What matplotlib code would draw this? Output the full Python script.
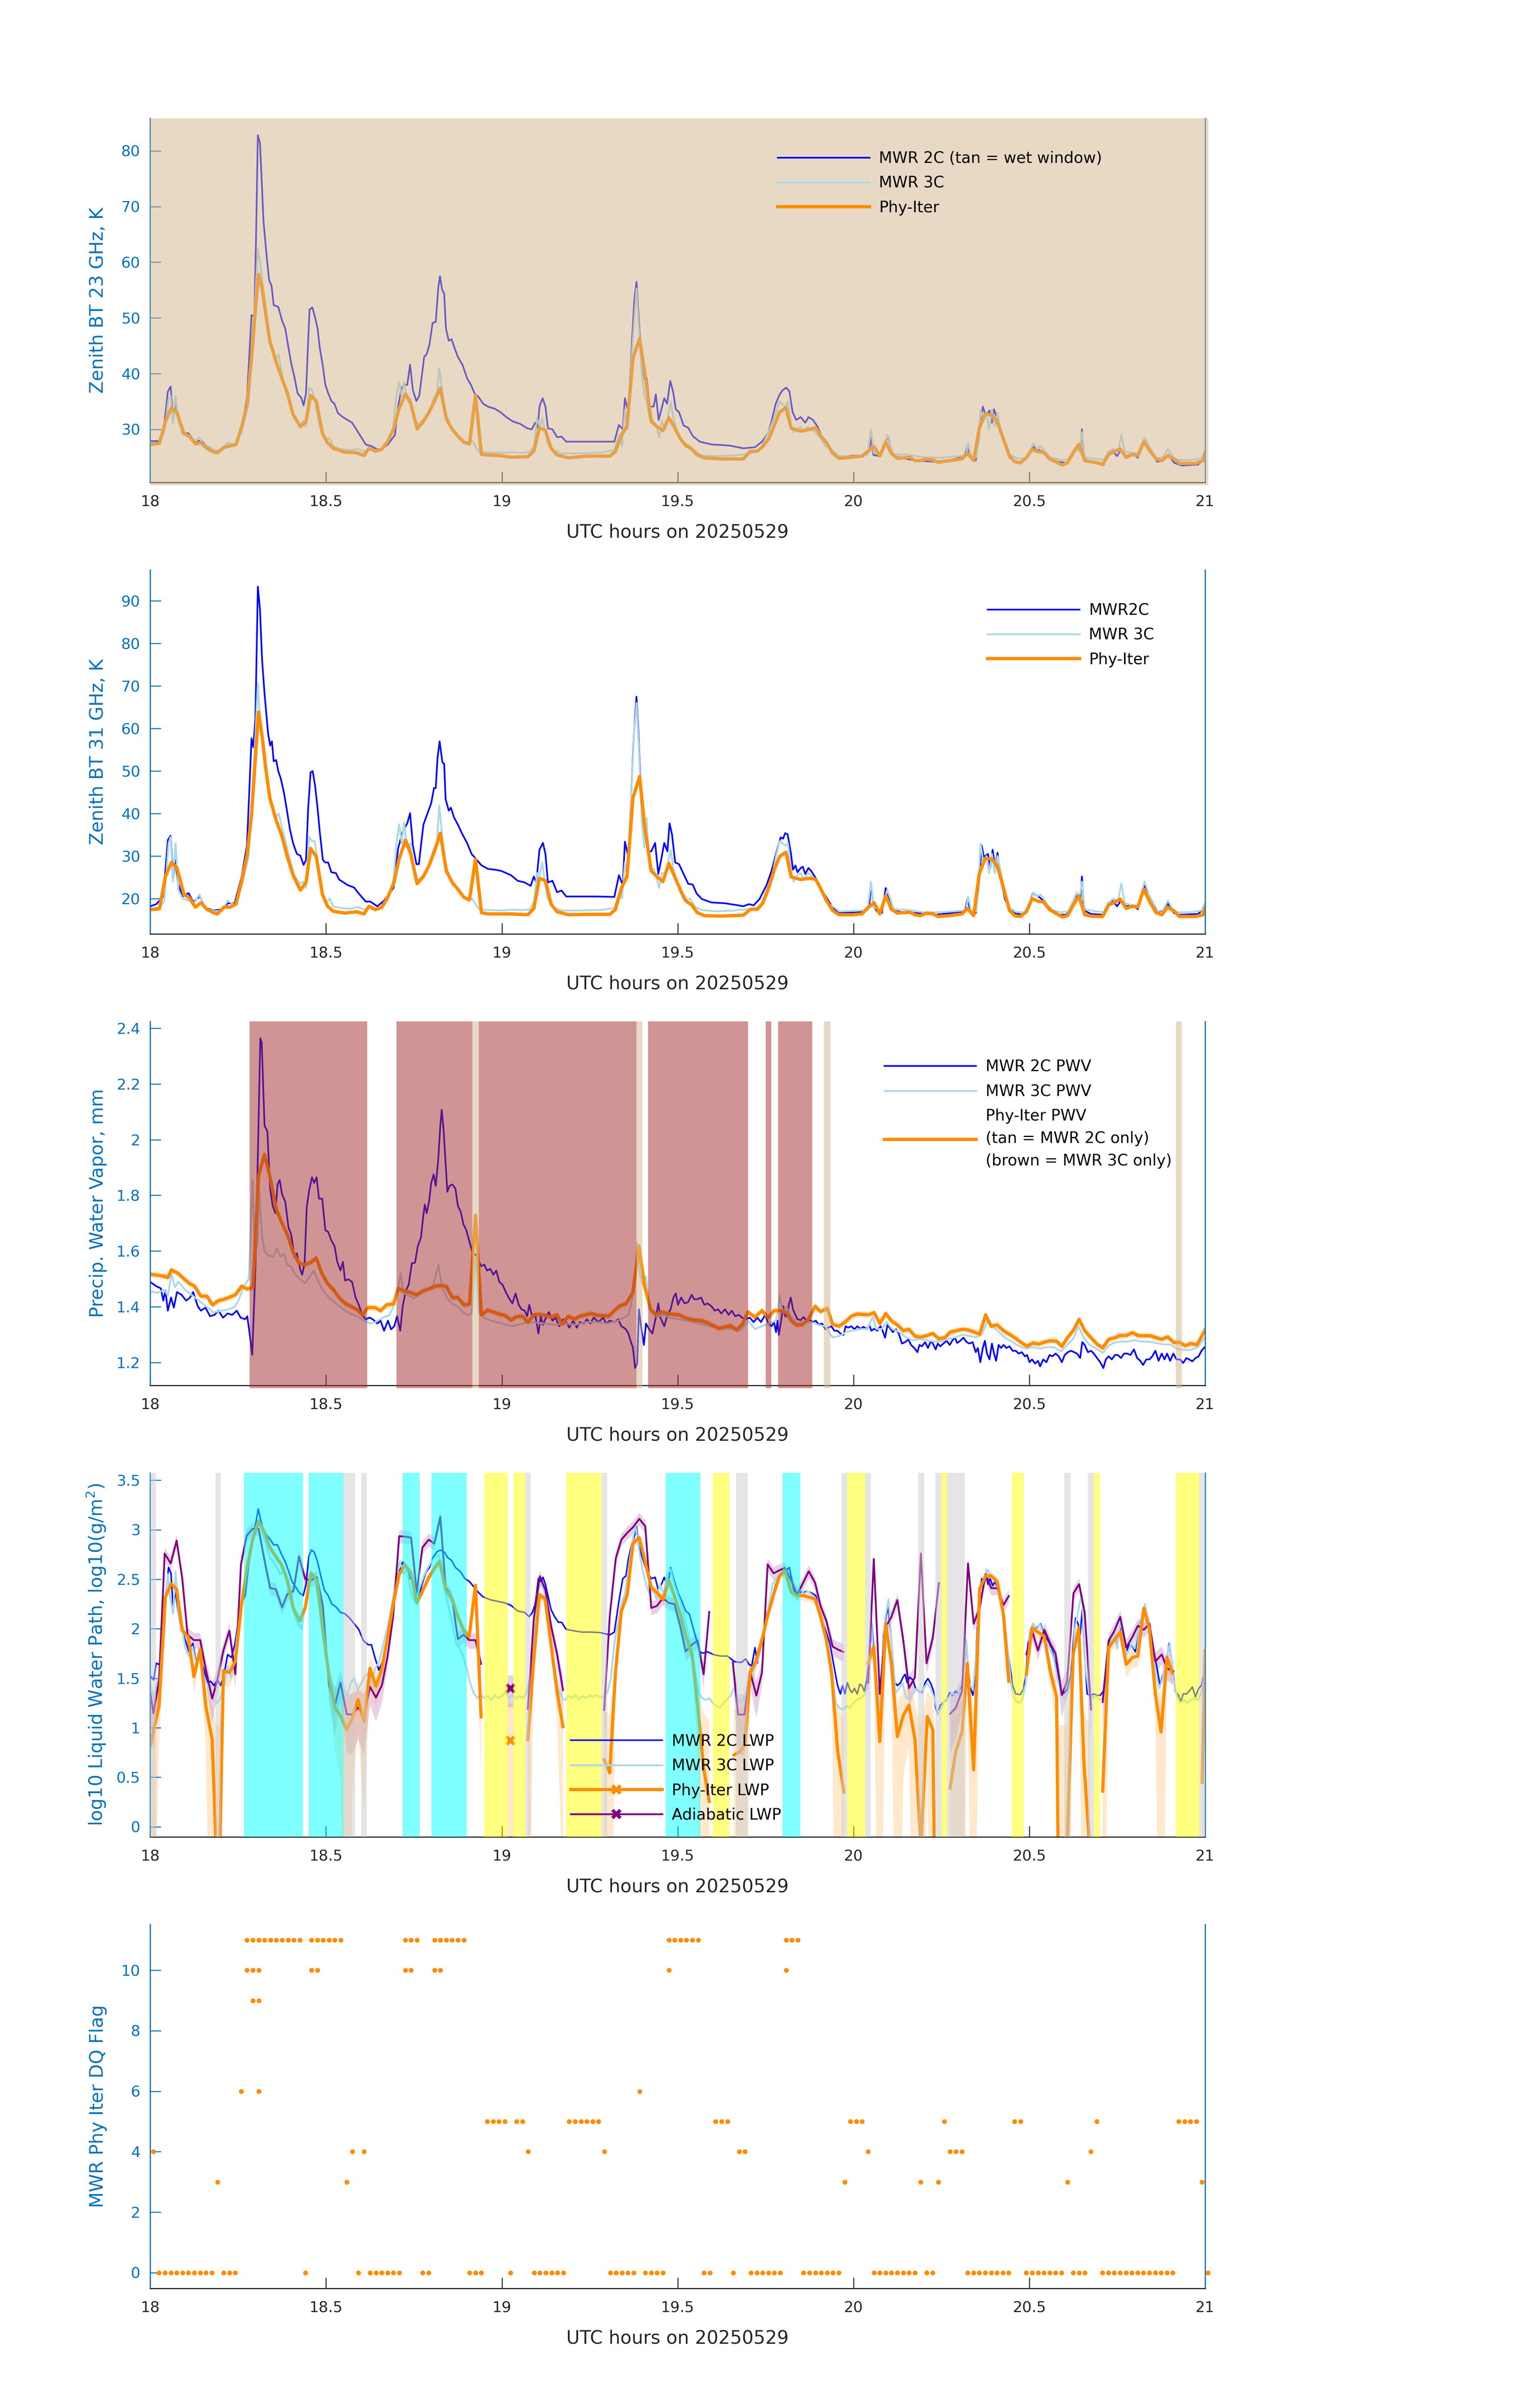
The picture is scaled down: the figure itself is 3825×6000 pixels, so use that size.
"""
MWR retrieval comparison, 18-21 UTC on 20250529.
Five stacked panels: 23 / 31 GHz BT, PWV, log10 LWP and the Phy-Iter DQ flag.
"""

import numpy as np
import matplotlib
matplotlib.use("Agg")
import matplotlib.pyplot as plt
from matplotlib.lines import Line2D
from matplotlib.patches import Rectangle
from matplotlib.ticker import FuncFormatter

# ── Data (hour UTC, value) ───────────────────────────────────────────────────
# Phy-Iter zenith BT: (hour, 23 GHz, 31 GHz)
bt_phy = [
    (18.000, 27.3, 17.4), (18.026, 27.5, 17.6), (18.043, 31.4, 25.2), (18.060, 33.9, 28.5),
    (18.076, 33.0, 27.2), (18.096, 29.2, 20.9), (18.111, 28.8, 20.2), (18.128, 27.4, 18.0),
    (18.144, 27.6, 19.0), (18.161, 26.6, 17.5), (18.181, 25.9, 16.6), (18.191, 25.8, 16.4),
    (18.210, 26.8, 18.0), (18.227, 27.0, 18.0), (18.244, 27.3, 18.7), (18.260, 30.5, 24.2),
    (18.275, 34.3, 30.1), (18.288, 42.8, 39.7), (18.299, 51.5, 53.0), (18.308, 57.8, 63.9),
    (18.318, 55.3, 58.3), (18.329, 50.5, 50.3), (18.340, 45.9, 43.7), (18.358, 42.1, 38.4),
    (18.373, 39.4, 35.1), (18.390, 36.5, 29.8), (18.406, 32.7, 25.5), (18.427, 30.5, 22.0),
    (18.443, 31.4, 23.8), (18.456, 36.1, 31.8), (18.472, 35.1, 29.9), (18.490, 29.3, 20.9),
    (18.504, 27.6, 18.2), (18.521, 26.6, 17.0), (18.554, 25.9, 16.6), (18.587, 25.8, 16.9),
    (18.608, 25.3, 16.4), (18.622, 26.6, 18.2), (18.640, 26.1, 17.4), (18.658, 26.4, 17.9),
    (18.675, 27.8, 20.2), (18.693, 30.2, 23.8), (18.707, 33.6, 29.1), (18.726, 36.4, 33.8),
    (18.741, 34.6, 30.5), (18.759, 30.1, 23.5), (18.777, 31.4, 25.2), (18.793, 33.1, 27.8),
    (18.810, 35.3, 31.5), (18.825, 37.4, 35.4), (18.842, 31.9, 26.5), (18.859, 30.0, 23.8),
    (18.875, 28.8, 22.2), (18.892, 27.7, 20.3), (18.908, 27.4, 19.7), (18.925, 36.1, 29.3),
    (18.942, 25.5, 16.7), (18.960, 25.4, 16.4), (18.993, 25.3, 16.4), (19.026, 25.0, 16.4),
    (19.074, 25.1, 16.2), (19.091, 26.1, 17.7), (19.107, 30.3, 24.8), (19.124, 29.8, 24.2),
    (19.140, 26.6, 18.7), (19.157, 25.4, 16.9), (19.190, 24.9, 16.2), (19.242, 25.2, 16.3),
    (19.307, 25.2, 16.3), (19.323, 26.0, 17.4), (19.340, 29.0, 22.5), (19.356, 30.5, 25.2),
    (19.373, 42.8, 43.7), (19.392, 46.3, 48.7), (19.406, 40.4, 37.1), (19.425, 31.4, 26.5),
    (19.441, 30.5, 25.2), (19.458, 29.8, 24.0), (19.475, 32.1, 28.3), (19.490, 30.5, 25.5),
    (19.508, 28.3, 22.0), (19.523, 27.1, 19.5), (19.540, 26.5, 18.5), (19.556, 25.4, 16.7),
    (19.576, 24.9, 16.0), (19.622, 24.7, 15.9), (19.687, 24.7, 16.1), (19.707, 26.1, 17.5),
    (19.727, 26.1, 17.5), (19.742, 26.9, 18.9), (19.759, 28.3, 22.5), (19.775, 30.7, 26.8),
    (19.790, 33.1, 29.9), (19.808, 33.9, 30.9), (19.823, 30.2, 25.1), (19.850, 29.7, 24.5),
    (19.876, 30.0, 24.8), (19.893, 30.3, 24.5), (19.906, 28.9, 22.5), (19.924, 27.6, 19.5),
    (19.941, 25.7, 17.2), (19.959, 24.8, 16.2), (19.994, 25.0, 16.2), (20.024, 25.2, 16.4),
    (20.042, 26.1, 17.9), (20.059, 26.9, 19.0), (20.075, 25.2, 16.4), (20.092, 27.7, 20.7),
    (20.108, 25.7, 17.5), (20.125, 24.8, 16.6), (20.160, 25.0, 16.8), (20.175, 24.4, 16.2),
    (20.191, 24.4, 16.0), (20.208, 24.7, 16.6), (20.226, 24.5, 16.4), (20.241, 24.1, 15.8),
    (20.274, 24.4, 16.0), (20.309, 24.7, 16.4), (20.324, 25.7, 17.7), (20.342, 24.4, 16.0),
    (20.358, 30.2, 25.8), (20.375, 32.8, 29.5), (20.393, 32.6, 29.3), (20.409, 31.4, 27.8),
    (20.427, 28.2, 22.5), (20.444, 25.2, 17.2), (20.459, 24.2, 16.0), (20.475, 24.0, 15.8),
    (20.492, 24.9, 16.9), (20.508, 26.4, 20.0), (20.525, 26.0, 19.4), (20.541, 25.9, 19.2),
    (20.558, 24.7, 17.4), (20.575, 24.2, 16.6), (20.594, 23.6, 15.7), (20.609, 24.0, 16.0),
    (20.625, 25.8, 18.4), (20.641, 27.3, 20.7), (20.658, 24.4, 16.2), (20.676, 24.2, 15.9),
    (20.693, 24.0, 15.8), (20.709, 23.7, 15.8), (20.726, 25.5, 18.5), (20.744, 26.1, 19.2),
    (20.759, 26.5, 19.9), (20.776, 25.0, 17.7), (20.794, 25.5, 18.2), (20.809, 25.3, 18.0),
    (20.826, 27.8, 22.2), (20.844, 26.1, 19.1), (20.861, 24.7, 16.7), (20.877, 24.4, 16.2),
    (20.894, 25.3, 18.0), (20.912, 24.7, 17.1), (20.927, 23.9, 15.8), (20.973, 23.9, 15.8),
    (20.995, 24.4, 16.2), (21.000, 25.8, 17.8),
]

# MWR 2C 23 GHz BT (hour, K)
bt23_2c = [
    (18.000, 27.9), (18.024, 27.9), (18.037, 29.3), (18.050, 36.8), (18.058, 37.7), (18.065, 31.7),
    (18.072, 34.8), (18.080, 31.9), (18.092, 29.3), (18.109, 29.3), (18.128, 27.6), (18.144, 28.1),
    (18.161, 26.8), (18.181, 26.1), (18.200, 26.3), (18.220, 27.1), (18.244, 27.2), (18.262, 30.7),
    (18.275, 35.8), (18.288, 50.5), (18.296, 50.3), (18.301, 65.0), (18.306, 82.8), (18.312, 81.4),
    (18.317, 74.6), (18.322, 67.4), (18.331, 61.1), (18.338, 56.8), (18.345, 55.8), (18.351, 52.3),
    (18.364, 52.0), (18.375, 49.5), (18.384, 48.1), (18.393, 44.7), (18.401, 41.8), (18.410, 39.4),
    (18.419, 36.5), (18.430, 35.6), (18.436, 34.3), (18.443, 36.5), (18.447, 42.8), (18.453, 51.5),
    (18.461, 51.9), (18.469, 50.0), (18.476, 48.1), (18.482, 44.7), (18.491, 41.3), (18.498, 38.0),
    (18.506, 36.5), (18.515, 35.1), (18.524, 34.6), (18.534, 32.9), (18.548, 32.2), (18.561, 31.7),
    (18.574, 31.2), (18.587, 29.9), (18.600, 28.6), (18.613, 27.3), (18.629, 27.0), (18.646, 26.4),
    (18.659, 26.5), (18.676, 27.3), (18.696, 29.0), (18.705, 34.1), (18.715, 37.5), (18.724, 38.0),
    (18.731, 38.0), (18.739, 41.6), (18.747, 37.0), (18.757, 35.1), (18.765, 36.0), (18.773, 39.9),
    (18.779, 43.0), (18.786, 43.5), (18.794, 45.2), (18.803, 49.1), (18.812, 49.3), (18.819, 55.3),
    (18.824, 57.5), (18.830, 55.1), (18.836, 54.4), (18.841, 48.1), (18.849, 45.9), (18.857, 46.2),
    (18.865, 44.7), (18.875, 43.0), (18.888, 41.6), (18.901, 39.2), (18.912, 38.0), (18.922, 36.5),
    (18.934, 35.8), (18.947, 34.6), (18.960, 34.1), (18.980, 33.7), (18.996, 33.1), (19.013, 32.2),
    (19.032, 31.4), (19.052, 31.0), (19.072, 30.2), (19.085, 30.0), (19.095, 31.2), (19.102, 30.2),
    (19.107, 34.1), (19.116, 35.6), (19.124, 34.1), (19.131, 30.2), (19.144, 30.0), (19.157, 28.6),
    (19.170, 28.7), (19.183, 27.8), (19.242, 27.8), (19.320, 27.8), (19.333, 30.8), (19.344, 30.0),
    (19.350, 35.6), (19.360, 33.1), (19.370, 45.7), (19.377, 53.4), (19.383, 56.5), (19.389, 50.5),
    (19.396, 43.3), (19.406, 38.9), (19.412, 39.2), (19.421, 34.1), (19.432, 34.1), (19.438, 36.3),
    (19.446, 31.7), (19.454, 33.6), (19.462, 35.6), (19.470, 34.6), (19.479, 38.7), (19.487, 36.8),
    (19.495, 33.6), (19.504, 33.1), (19.517, 30.7), (19.530, 30.3), (19.543, 28.8), (19.563, 27.8),
    (19.596, 27.3), (19.648, 27.1), (19.687, 26.6), (19.720, 26.8), (19.740, 27.8), (19.757, 29.3),
    (19.766, 31.2), (19.779, 34.6), (19.789, 36.1), (19.798, 37.0), (19.809, 37.5), (19.818, 36.8),
    (19.827, 33.1), (19.837, 31.7), (19.850, 32.2), (19.863, 31.2), (19.872, 32.2), (19.885, 31.7),
    (19.898, 30.5), (19.908, 29.0), (19.924, 27.6), (19.941, 25.9), (19.959, 24.9), (19.994, 25.3),
    (20.029, 25.2), (20.045, 26.4), (20.050, 28.6), (20.057, 25.4), (20.073, 25.2), (20.090, 27.8),
    (20.099, 28.6), (20.112, 25.3), (20.134, 24.9), (20.177, 24.4), (20.230, 24.2), (20.282, 24.5),
    (20.317, 25.4), (20.324, 26.9), (20.333, 24.9), (20.348, 24.4), (20.359, 29.8), (20.368, 34.1),
    (20.377, 32.4), (20.387, 33.4), (20.394, 31.2), (20.400, 33.6), (20.409, 31.9), (20.420, 29.8),
    (20.431, 27.3), (20.444, 24.9), (20.462, 24.2), (20.479, 24.0), (20.499, 25.4), (20.510, 26.9),
    (20.523, 26.4), (20.536, 26.1), (20.553, 24.9), (20.580, 24.2), (20.606, 24.0), (20.623, 25.4),
    (20.636, 27.1), (20.645, 26.4), (20.650, 30.0), (20.656, 24.7), (20.676, 24.2), (20.712, 23.6),
    (20.724, 25.7), (20.737, 26.1), (20.750, 25.2), (20.761, 26.4), (20.776, 25.2), (20.794, 25.7),
    (20.809, 24.9), (20.829, 28.1), (20.846, 26.4), (20.864, 24.2), (20.881, 24.4), (20.896, 25.5),
    (20.912, 24.0), (20.934, 23.5), (20.981, 23.7), (21.000, 24.9),
]

# MWR 2C 31 GHz BT (hour, K)
bt31_2c = [
    (18.000, 18.2), (18.017, 18.7), (18.037, 20.5), (18.050, 33.8), (18.058, 34.8), (18.065, 24.8),
    (18.071, 29.1), (18.079, 23.5), (18.092, 20.5), (18.109, 21.3), (18.122, 19.2), (18.141, 20.5),
    (18.155, 17.9), (18.181, 17.2), (18.207, 17.5), (18.220, 18.9), (18.240, 18.9), (18.260, 25.2),
    (18.275, 32.5), (18.288, 57.7), (18.293, 55.6), (18.299, 62.3), (18.306, 93.4), (18.312, 88.1),
    (18.318, 76.2), (18.325, 68.2), (18.335, 58.9), (18.341, 56.0), (18.346, 57.0), (18.351, 52.3),
    (18.358, 52.6), (18.364, 50.0), (18.371, 48.3), (18.380, 45.0), (18.388, 41.1), (18.397, 36.4),
    (18.406, 33.1), (18.417, 30.5), (18.427, 30.1), (18.436, 27.9), (18.443, 29.1), (18.449, 41.1),
    (18.456, 49.7), (18.462, 50.0), (18.469, 46.4), (18.476, 41.1), (18.482, 35.8), (18.491, 29.1),
    (18.498, 28.5), (18.506, 28.5), (18.515, 26.2), (18.528, 26.0), (18.537, 24.5), (18.561, 23.2),
    (18.580, 22.6), (18.593, 21.2), (18.613, 19.3), (18.626, 19.3), (18.646, 18.2), (18.665, 19.5),
    (18.692, 22.5), (18.705, 31.8), (18.718, 35.8), (18.731, 37.7), (18.739, 40.1), (18.747, 32.5),
    (18.757, 28.1), (18.764, 28.1), (18.770, 32.5), (18.777, 37.4), (18.790, 40.4), (18.799, 42.4),
    (18.807, 46.0), (18.812, 46.0), (18.817, 53.0), (18.823, 57.0), (18.831, 52.0), (18.836, 51.7),
    (18.840, 43.4), (18.849, 40.7), (18.855, 41.4), (18.864, 39.1), (18.875, 37.4), (18.888, 35.1),
    (18.901, 33.1), (18.914, 30.5), (18.927, 29.3), (18.941, 27.9), (18.960, 27.0), (18.980, 26.8),
    (18.999, 26.5), (19.026, 25.5), (19.045, 24.2), (19.065, 23.8), (19.082, 23.0), (19.091, 25.2),
    (19.098, 23.8), (19.107, 31.5), (19.117, 33.1), (19.124, 30.5), (19.131, 23.8), (19.144, 24.2),
    (19.157, 21.5), (19.170, 21.9), (19.183, 20.5), (19.216, 20.5), (19.268, 20.5), (19.320, 20.4),
    (19.333, 25.5), (19.344, 23.2), (19.350, 33.4), (19.360, 29.8), (19.373, 54.3), (19.379, 63.2),
    (19.383, 67.5), (19.389, 58.3), (19.396, 44.4), (19.406, 35.8), (19.415, 31.1), (19.425, 31.1),
    (19.436, 33.1), (19.445, 25.8), (19.454, 29.5), (19.462, 33.1), (19.471, 31.1), (19.477, 37.7),
    (19.484, 35.1), (19.493, 28.5), (19.504, 28.1), (19.517, 25.8), (19.530, 23.5), (19.543, 23.3),
    (19.554, 21.2), (19.569, 19.9), (19.596, 19.1), (19.635, 18.9), (19.674, 18.4), (19.687, 18.2),
    (19.703, 18.7), (19.716, 18.4), (19.733, 19.9), (19.753, 23.2), (19.767, 26.5), (19.784, 31.8),
    (19.793, 34.4), (19.800, 34.1), (19.806, 35.4), (19.813, 35.1), (19.822, 30.8), (19.828, 26.8),
    (19.835, 27.8), (19.841, 26.2), (19.850, 27.2), (19.856, 27.5), (19.863, 25.8), (19.872, 27.2),
    (19.880, 26.5), (19.893, 24.8), (19.906, 22.5), (19.924, 20.2), (19.941, 17.9), (19.959, 16.7),
    (19.994, 16.7), (20.029, 16.9), (20.045, 18.2), (20.050, 23.5), (20.057, 18.2), (20.068, 16.9),
    (20.081, 16.6), (20.092, 22.5), (20.100, 20.5), (20.112, 17.2), (20.134, 16.9), (20.177, 16.6),
    (20.230, 16.2), (20.282, 16.6), (20.317, 16.9), (20.324, 19.9), (20.333, 17.2), (20.348, 16.6),
    (20.357, 23.8), (20.365, 32.5), (20.371, 29.8), (20.383, 30.5), (20.389, 27.2), (20.396, 31.5),
    (20.403, 27.2), (20.410, 30.8), (20.418, 25.2), (20.431, 19.9), (20.444, 17.5), (20.457, 16.6),
    (20.483, 16.2), (20.499, 18.2), (20.510, 21.2), (20.518, 20.9), (20.531, 20.2), (20.545, 19.2),
    (20.562, 17.5), (20.584, 16.2), (20.606, 16.2), (20.623, 18.5), (20.636, 21.2), (20.645, 19.2),
    (20.650, 25.2), (20.656, 17.2), (20.676, 16.4), (20.711, 16.2), (20.724, 18.9), (20.737, 19.5),
    (20.750, 18.2), (20.761, 19.5), (20.776, 18.2), (20.794, 18.5), (20.809, 17.5), (20.829, 23.2),
    (20.846, 19.9), (20.864, 16.9), (20.881, 17.2), (20.894, 18.9), (20.912, 16.6), (20.929, 16.2),
    (20.981, 16.4), (21.000, 18.0),
]

# MWR 3C zenith BT: (hour, 23 GHz, 31 GHz)
bt_3c = [
    (18.000, 27.5, 17.8), (18.026, 27.6, 17.9), (18.040, 29.5, 19.5), (18.052, 35.5, 33.0),
    (18.058, 36.0, 34.5), (18.064, 31.0, 24.0), (18.072, 36.0, 33.0), (18.080, 31.5, 22.0),
    (18.092, 29.5, 20.0), (18.110, 28.5, 19.5), (18.125, 28.0, 19.0), (18.140, 28.5, 21.0),
    (18.150, 27.3, 18.5), (18.165, 27.0, 17.5), (18.185, 26.2, 17.0), (18.205, 26.5, 17.3),
    (18.220, 27.6, 19.5), (18.240, 27.2, 18.5), (18.260, 29.5, 23.0), (18.280, 35.0, 30.0),
    (18.290, 45.0, 44.0), (18.300, 55.0, 60.0), (18.306, 62.5, 70.7), (18.312, 60.0, 62.0),
    (18.318, 57.0, 58.0), (18.328, 52.0, 50.0), (18.340, 46.0, 44.0), (18.355, 42.0, 39.0),
    (18.365, 43.5, 40.0), (18.380, 38.0, 35.0), (18.395, 35.0, 30.0), (18.410, 32.0, 25.5),
    (18.425, 30.5, 23.5), (18.435, 31.5, 24.0), (18.443, 30.5, 22.5), (18.452, 37.5, 34.5),
    (18.460, 37.0, 33.5), (18.468, 35.5, 33.5), (18.480, 31.0, 26.0), (18.490, 29.0, 21.5),
    (18.500, 28.0, 19.0), (18.510, 28.5, 20.0), (18.520, 27.0, 18.2), (18.540, 26.5, 17.8),
    (18.570, 26.3, 17.6), (18.590, 26.5, 18.0), (18.610, 26.0, 17.4), (18.625, 26.6, 18.2),
    (18.645, 26.2, 17.6), (18.660, 26.6, 18.0), (18.675, 27.8, 19.8), (18.690, 30.0, 23.0),
    (18.700, 36.0, 33.0), (18.708, 38.5, 37.5), (18.715, 36.0, 33.0), (18.722, 38.5, 38.0),
    (18.730, 35.5, 32.0), (18.740, 35.5, 33.0), (18.752, 31.5, 25.0), (18.765, 31.0, 24.5),
    (18.780, 32.0, 26.0), (18.795, 33.0, 28.0), (18.805, 35.5, 31.5), (18.815, 36.5, 33.0),
    (18.822, 41.0, 41.9), (18.830, 37.0, 35.0), (18.840, 33.0, 28.0), (18.855, 30.5, 24.5),
    (18.868, 29.5, 23.0), (18.880, 28.5, 21.5), (18.895, 27.8, 20.0), (18.905, 27.5, 19.5),
    (18.915, 28.0, 20.0), (18.935, 26.0, 17.5), (18.960, 25.9, 17.3), (19.000, 25.8, 17.2),
    (19.030, 25.9, 17.4), (19.060, 25.8, 17.3), (19.080, 26.0, 17.5), (19.092, 27.0, 19.5),
    (19.100, 32.0, 26.0), (19.108, 30.5, 25.5), (19.115, 32.0, 28.5), (19.122, 30.0, 24.0),
    (19.130, 27.5, 20.0), (19.145, 26.3, 18.0), (19.170, 25.7, 17.2), (19.220, 25.7, 17.2),
    (19.280, 25.8, 17.3), (19.320, 26.3, 17.8), (19.333, 29.0, 21.0), (19.342, 27.0, 20.0),
    (19.350, 33.5, 28.5), (19.358, 30.0, 25.0), (19.368, 42.0, 45.0), (19.377, 50.0, 60.0),
    (19.383, 55.3, 66.0), (19.390, 48.0, 55.0), (19.398, 40.0, 38.0), (19.405, 36.0, 32.0),
    (19.412, 35.0, 39.0), (19.420, 32.0, 27.0), (19.432, 31.5, 27.0), (19.440, 30.5, 25.0),
    (19.447, 28.5, 22.5), (19.455, 31.5, 26.0), (19.465, 30.0, 26.0), (19.472, 32.0, 28.0),
    (19.480, 35.0, 31.5), (19.488, 32.0, 27.0), (19.500, 29.5, 23.5), (19.510, 28.0, 21.0),
    (19.520, 27.5, 19.5), (19.535, 27.0, 20.0), (19.550, 26.0, 18.0), (19.570, 25.3, 17.3),
    (19.610, 25.2, 17.0), (19.660, 25.3, 17.2), (19.700, 25.6, 17.5), (19.725, 26.0, 17.8),
    (19.740, 27.0, 19.0), (19.755, 29.0, 22.5), (19.768, 31.0, 25.0), (19.780, 33.0, 30.0),
    (19.790, 35.0, 33.5), (19.798, 34.5, 33.0), (19.806, 34.0, 32.5), (19.814, 35.0, 33.0),
    (19.822, 31.0, 27.0), (19.830, 29.5, 24.0), (19.840, 30.0, 25.5), (19.850, 30.5, 26.0),
    (19.860, 29.5, 24.5), (19.870, 30.5, 26.0), (19.880, 30.0, 25.5), (19.892, 29.5, 24.5),
    (19.905, 28.5, 22.5), (19.920, 27.0, 19.5), (19.935, 26.5, 18.5), (19.945, 26.0, 18.0),
    (19.960, 25.2, 17.0), (20.000, 25.2, 17.1), (20.040, 25.4, 17.3), (20.050, 30.0, 24.0),
    (20.058, 25.8, 17.8), (20.080, 25.5, 17.3), (20.096, 29.0, 22.0), (20.105, 27.0, 20.0),
    (20.115, 25.5, 17.5), (20.150, 25.5, 17.4), (20.200, 25.0, 16.8), (20.250, 24.9, 16.8),
    (20.300, 25.2, 17.1), (20.320, 25.3, 17.3), (20.326, 27.5, 20.5), (20.335, 25.2, 17.2),
    (20.350, 25.0, 17.0), (20.362, 33.5, 33.0), (20.370, 31.5, 28.0), (20.378, 33.0, 30.0),
    (20.386, 30.0, 26.0), (20.394, 33.5, 30.5), (20.402, 30.5, 26.0), (20.410, 33.0, 30.0),
    (20.420, 29.5, 26.0), (20.432, 27.0, 21.0), (20.445, 25.5, 17.8), (20.465, 24.8, 16.8),
    (20.490, 24.8, 16.8), (20.505, 26.5, 19.5), (20.512, 27.5, 21.5), (20.522, 26.5, 20.5),
    (20.532, 27.0, 21.0), (20.545, 26.0, 19.5), (20.560, 25.0, 17.5), (20.590, 24.5, 16.8),
    (20.610, 24.6, 17.0), (20.625, 26.0, 19.5), (20.635, 27.0, 21.5), (20.642, 26.0, 19.5),
    (20.650, 29.5, 24.0), (20.658, 25.0, 17.5), (20.690, 24.7, 17.0), (20.712, 24.5, 16.8),
    (20.725, 26.0, 19.0), (20.740, 26.5, 20.0), (20.752, 25.8, 19.0), (20.762, 29.0, 23.5),
    (20.772, 26.0, 19.0), (20.790, 25.8, 18.5), (20.810, 25.7, 18.3), (20.828, 28.5, 24.0),
    (20.845, 26.5, 20.0), (20.862, 24.8, 17.0), (20.880, 25.0, 17.3), (20.895, 26.5, 19.5),
    (20.912, 24.8, 17.0), (20.925, 24.5, 16.8), (20.960, 24.5, 16.8), (20.990, 24.8, 17.2),
    (21.000, 26.0, 19.0),
]

# Precipitable water vapour, mm
pwv_phy = [
    (18.000, 1.517), (18.037, 1.510), (18.050, 1.505), (18.060, 1.532), (18.079, 1.520), (18.096, 1.500),
    (18.111, 1.484), (18.126, 1.474), (18.144, 1.438), (18.161, 1.438), (18.177, 1.407), (18.194, 1.422),
    (18.210, 1.427), (18.227, 1.435), (18.242, 1.443), (18.260, 1.474), (18.275, 1.464), (18.292, 1.469),
    (18.308, 1.870), (18.325, 1.947), (18.341, 1.865), (18.358, 1.752), (18.373, 1.705), (18.390, 1.659),
    (18.406, 1.597), (18.423, 1.556), (18.439, 1.551), (18.456, 1.559), (18.472, 1.575), (18.489, 1.517),
    (18.504, 1.484), (18.521, 1.461), (18.537, 1.433), (18.554, 1.412), (18.570, 1.402), (18.587, 1.391),
    (18.603, 1.371), (18.619, 1.397), (18.639, 1.397), (18.655, 1.386), (18.672, 1.407), (18.692, 1.410),
    (18.705, 1.466), (18.724, 1.455), (18.741, 1.451), (18.757, 1.443), (18.777, 1.458), (18.793, 1.464),
    (18.810, 1.474), (18.825, 1.476), (18.842, 1.474), (18.859, 1.433), (18.875, 1.433), (18.892, 1.407),
    (18.908, 1.409), (18.925, 1.729), (18.942, 1.371), (18.960, 1.388), (18.976, 1.381), (18.993, 1.373),
    (19.009, 1.369), (19.026, 1.352), (19.041, 1.364), (19.058, 1.366), (19.074, 1.345), (19.091, 1.371),
    (19.107, 1.373), (19.124, 1.369), (19.140, 1.363), (19.157, 1.371), (19.172, 1.338), (19.189, 1.366),
    (19.205, 1.355), (19.222, 1.366), (19.238, 1.371), (19.255, 1.376), (19.271, 1.369), (19.288, 1.368),
    (19.303, 1.366), (19.320, 1.386), (19.336, 1.404), (19.353, 1.410), (19.373, 1.453), (19.390, 1.618),
    (19.406, 1.474), (19.423, 1.391), (19.438, 1.371), (19.454, 1.381), (19.471, 1.376), (19.487, 1.373),
    (19.504, 1.371), (19.520, 1.361), (19.537, 1.355), (19.552, 1.352), (19.569, 1.350), (19.585, 1.342),
    (19.602, 1.332), (19.618, 1.322), (19.635, 1.328), (19.651, 1.332), (19.668, 1.317), (19.683, 1.335),
    (19.700, 1.381), (19.720, 1.363), (19.740, 1.386), (19.758, 1.361), (19.774, 1.386), (19.791, 1.386),
    (19.809, 1.379), (19.823, 1.350), (19.837, 1.335), (19.854, 1.335), (19.872, 1.355), (19.891, 1.402),
    (19.906, 1.383), (19.926, 1.394), (19.941, 1.337), (19.959, 1.330), (19.976, 1.345), (19.994, 1.366),
    (20.011, 1.374), (20.042, 1.371), (20.059, 1.379), (20.075, 1.340), (20.092, 1.376), (20.109, 1.348),
    (20.125, 1.335), (20.142, 1.314), (20.158, 1.319), (20.176, 1.294), (20.191, 1.291), (20.208, 1.296),
    (20.226, 1.304), (20.243, 1.285), (20.260, 1.289), (20.275, 1.309), (20.293, 1.314), (20.310, 1.319),
    (20.326, 1.317), (20.344, 1.309), (20.359, 1.301), (20.376, 1.371), (20.392, 1.330), (20.409, 1.335),
    (20.427, 1.314), (20.444, 1.301), (20.459, 1.289), (20.476, 1.273), (20.494, 1.258), (20.510, 1.270),
    (20.527, 1.266), (20.543, 1.273), (20.560, 1.278), (20.578, 1.276), (20.593, 1.258), (20.610, 1.291),
    (20.625, 1.314), (20.642, 1.355), (20.658, 1.314), (20.676, 1.289), (20.693, 1.266), (20.709, 1.252),
    (20.726, 1.283), (20.744, 1.289), (20.759, 1.297), (20.776, 1.297), (20.794, 1.307), (20.809, 1.297),
    (20.826, 1.296), (20.844, 1.296), (20.861, 1.289), (20.877, 1.283), (20.894, 1.292), (20.912, 1.271),
    (20.927, 1.273), (20.944, 1.260), (20.960, 1.268), (20.977, 1.263), (20.995, 1.304), (21.000, 1.317),
]
pwv_phy_unc = 0.012  # half-width of the shaded Phy-Iter PWV band, mm

pwv_2c = [
    (18.000, 1.489), (18.017, 1.474), (18.030, 1.466), (18.037, 1.422), (18.043, 1.458), (18.050, 1.386),
    (18.059, 1.433), (18.067, 1.397), (18.076, 1.453), (18.089, 1.443), (18.102, 1.422), (18.113, 1.433),
    (18.122, 1.453), (18.135, 1.402), (18.144, 1.386), (18.157, 1.397), (18.170, 1.366), (18.183, 1.371),
    (18.194, 1.386), (18.207, 1.361), (18.220, 1.376), (18.233, 1.371), (18.246, 1.386), (18.257, 1.361),
    (18.270, 1.355), (18.276, 1.366), (18.283, 1.299), (18.290, 1.227), (18.299, 1.536), (18.305, 1.886),
    (18.313, 2.364), (18.317, 2.349), (18.325, 2.050), (18.333, 2.030), (18.341, 1.824), (18.348, 1.762),
    (18.356, 1.736), (18.362, 1.839), (18.368, 1.855), (18.375, 1.803), (18.384, 1.777), (18.393, 1.685),
    (18.401, 1.659), (18.410, 1.577), (18.417, 1.592), (18.426, 1.536), (18.432, 1.515), (18.439, 1.556),
    (18.445, 1.757), (18.452, 1.819), (18.460, 1.865), (18.466, 1.844), (18.473, 1.865), (18.480, 1.788),
    (18.489, 1.788), (18.498, 1.675), (18.506, 1.669), (18.515, 1.638), (18.524, 1.618), (18.532, 1.561),
    (18.541, 1.530), (18.548, 1.561), (18.554, 1.494), (18.563, 1.499), (18.574, 1.489), (18.584, 1.433),
    (18.593, 1.407), (18.603, 1.371), (18.613, 1.355), (18.624, 1.361), (18.633, 1.355), (18.646, 1.340),
    (18.655, 1.350), (18.665, 1.314), (18.676, 1.350), (18.685, 1.319), (18.694, 1.330), (18.702, 1.366),
    (18.711, 1.314), (18.718, 1.402), (18.727, 1.458), (18.735, 1.479), (18.744, 1.556), (18.753, 1.558),
    (18.761, 1.618), (18.770, 1.649), (18.777, 1.731), (18.781, 1.767), (18.786, 1.736), (18.793, 1.777),
    (18.799, 1.844), (18.806, 1.875), (18.812, 1.834), (18.819, 1.927), (18.825, 2.050), (18.829, 2.107),
    (18.834, 2.040), (18.840, 1.916), (18.845, 1.813), (18.851, 1.834), (18.859, 1.839), (18.868, 1.824),
    (18.875, 1.762), (18.883, 1.741), (18.891, 1.695), (18.899, 1.675), (18.908, 1.633), (18.917, 1.592),
    (18.925, 1.587), (18.934, 1.566), (18.941, 1.546), (18.950, 1.551), (18.958, 1.530), (18.967, 1.536),
    (18.976, 1.515), (18.984, 1.530), (18.993, 1.489), (19.002, 1.479), (19.013, 1.448), (19.022, 1.427),
    (19.030, 1.412), (19.039, 1.448), (19.048, 1.407), (19.056, 1.391), (19.065, 1.386), (19.072, 1.366),
    (19.078, 1.407), (19.087, 1.361), (19.095, 1.371), (19.104, 1.304), (19.111, 1.366), (19.117, 1.335),
    (19.127, 1.366), (19.134, 1.381), (19.144, 1.350), (19.153, 1.361), (19.163, 1.330), (19.174, 1.355),
    (19.183, 1.345), (19.192, 1.325), (19.203, 1.350), (19.213, 1.325), (19.222, 1.345), (19.233, 1.340),
    (19.242, 1.355), (19.252, 1.340), (19.261, 1.361), (19.275, 1.345), (19.288, 1.361), (19.297, 1.340),
    (19.307, 1.350), (19.320, 1.345), (19.331, 1.355), (19.340, 1.330), (19.347, 1.325), (19.353, 1.319),
    (19.360, 1.304), (19.366, 1.278), (19.373, 1.252), (19.379, 1.180), (19.385, 1.196), (19.390, 1.391),
    (19.396, 1.330), (19.404, 1.263), (19.410, 1.340), (19.419, 1.319), (19.428, 1.304), (19.438, 1.361),
    (19.445, 1.412), (19.451, 1.361), (19.462, 1.330), (19.471, 1.371), (19.480, 1.391), (19.488, 1.433),
    (19.495, 1.448), (19.501, 1.407), (19.510, 1.433), (19.520, 1.412), (19.530, 1.417), (19.540, 1.443),
    (19.547, 1.427), (19.556, 1.427), (19.567, 1.433), (19.576, 1.407), (19.585, 1.412), (19.596, 1.402),
    (19.606, 1.386), (19.615, 1.391), (19.624, 1.376), (19.635, 1.391), (19.645, 1.371), (19.654, 1.386),
    (19.664, 1.366), (19.674, 1.371), (19.683, 1.361), (19.693, 1.355), (19.705, 1.361), (19.716, 1.345),
    (19.727, 1.361), (19.737, 1.345), (19.749, 1.371), (19.758, 1.340), (19.767, 1.330), (19.774, 1.345),
    (19.780, 1.309), (19.784, 1.350), (19.788, 1.299), (19.795, 1.355), (19.800, 1.402), (19.806, 1.366),
    (19.812, 1.366), (19.817, 1.412), (19.822, 1.433), (19.828, 1.391), (19.835, 1.371), (19.841, 1.355),
    (19.850, 1.352), (19.858, 1.363), (19.867, 1.350), (19.876, 1.352), (19.885, 1.345), (19.893, 1.350),
    (19.902, 1.335), (19.911, 1.340), (19.920, 1.319), (19.928, 1.325), (19.937, 1.330), (19.946, 1.314),
    (19.955, 1.314), (19.963, 1.304), (19.972, 1.299), (19.978, 1.330), (19.985, 1.325), (19.994, 1.330),
    (20.003, 1.319), (20.011, 1.330), (20.020, 1.321), (20.029, 1.328), (20.038, 1.319), (20.045, 1.335),
    (20.051, 1.314), (20.059, 1.321), (20.068, 1.314), (20.077, 1.330), (20.083, 1.314), (20.090, 1.289),
    (20.097, 1.335), (20.103, 1.325), (20.112, 1.309), (20.121, 1.319), (20.129, 1.304), (20.138, 1.268),
    (20.147, 1.273), (20.156, 1.283), (20.164, 1.263), (20.173, 1.252), (20.182, 1.237), (20.188, 1.263),
    (20.195, 1.258), (20.204, 1.273), (20.212, 1.252), (20.221, 1.278), (20.228, 1.263), (20.234, 1.247),
    (20.240, 1.268), (20.247, 1.258), (20.256, 1.268), (20.265, 1.278), (20.274, 1.263), (20.282, 1.280),
    (20.289, 1.289), (20.295, 1.270), (20.304, 1.278), (20.313, 1.289), (20.322, 1.273), (20.330, 1.268),
    (20.339, 1.273), (20.348, 1.237), (20.354, 1.252), (20.361, 1.201), (20.368, 1.252), (20.374, 1.278),
    (20.380, 1.232), (20.387, 1.211), (20.394, 1.268), (20.400, 1.232), (20.406, 1.206), (20.413, 1.263),
    (20.420, 1.252), (20.427, 1.263), (20.435, 1.252), (20.444, 1.258), (20.453, 1.242), (20.462, 1.242),
    (20.470, 1.232), (20.479, 1.237), (20.488, 1.222), (20.494, 1.227), (20.501, 1.201), (20.508, 1.211),
    (20.517, 1.196), (20.525, 1.206), (20.531, 1.186), (20.540, 1.211), (20.549, 1.201), (20.558, 1.227),
    (20.566, 1.222), (20.575, 1.232), (20.584, 1.222), (20.593, 1.201), (20.601, 1.227), (20.610, 1.237),
    (20.619, 1.242), (20.628, 1.237), (20.636, 1.232), (20.645, 1.216), (20.651, 1.273), (20.658, 1.263),
    (20.667, 1.237), (20.676, 1.242), (20.684, 1.232), (20.693, 1.216), (20.702, 1.201), (20.711, 1.180),
    (20.718, 1.211), (20.726, 1.222), (20.735, 1.211), (20.744, 1.227), (20.752, 1.227), (20.761, 1.216),
    (20.770, 1.232), (20.779, 1.232), (20.788, 1.227), (20.798, 1.247), (20.807, 1.216), (20.816, 1.206),
    (20.824, 1.191), (20.833, 1.211), (20.842, 1.211), (20.850, 1.222), (20.859, 1.242), (20.868, 1.206),
    (20.877, 1.232), (20.885, 1.211), (20.892, 1.232), (20.901, 1.206), (20.910, 1.232), (20.919, 1.211),
    (20.929, 1.211), (20.938, 1.198), (20.947, 1.216), (20.955, 1.211), (20.964, 1.204), (20.973, 1.216),
    (20.982, 1.222), (20.990, 1.242), (21.000, 1.256),
]

pwv_3c = [
    (18.000, 1.455), (18.020, 1.450), (18.040, 1.460), (18.050, 1.440), (18.060, 1.520), (18.070, 1.470),
    (18.080, 1.490), (18.100, 1.460), (18.120, 1.440), (18.140, 1.420), (18.160, 1.400), (18.180, 1.380),
    (18.200, 1.385), (18.220, 1.390), (18.240, 1.400), (18.250, 1.420), (18.265, 1.470), (18.280, 1.500),
    (18.291, 1.855), (18.297, 1.600), (18.305, 1.620), (18.310, 1.818), (18.318, 1.650), (18.325, 1.600),
    (18.335, 1.585), (18.350, 1.580), (18.360, 1.610), (18.370, 1.580), (18.380, 1.590), (18.390, 1.550),
    (18.400, 1.545), (18.410, 1.520), (18.425, 1.500), (18.440, 1.485), (18.455, 1.510), (18.465, 1.530),
    (18.475, 1.500), (18.490, 1.460), (18.510, 1.430), (18.530, 1.410), (18.550, 1.390), (18.570, 1.375),
    (18.590, 1.365), (18.610, 1.350), (18.625, 1.340), (18.640, 1.345), (18.660, 1.360), (18.680, 1.370),
    (18.695, 1.410), (18.705, 1.470), (18.712, 1.520), (18.720, 1.450), (18.735, 1.440), (18.750, 1.430),
    (18.760, 1.440), (18.775, 1.450), (18.790, 1.460), (18.800, 1.465), (18.810, 1.500), (18.820, 1.550),
    (18.830, 1.470), (18.845, 1.430), (18.860, 1.410), (18.875, 1.400), (18.890, 1.380), (18.905, 1.370),
    (18.915, 1.380), (18.925, 1.580), (18.935, 1.380), (18.950, 1.360), (18.970, 1.350), (19.000, 1.340),
    (19.030, 1.330), (19.060, 1.340), (19.090, 1.345), (19.120, 1.340), (19.150, 1.335), (19.180, 1.340),
    (19.210, 1.335), (19.240, 1.345), (19.270, 1.345), (19.300, 1.340), (19.330, 1.350), (19.360, 1.370),
    (19.375, 1.450), (19.385, 1.630), (19.392, 1.520), (19.400, 1.480), (19.410, 1.510), (19.420, 1.400),
    (19.440, 1.365), (19.460, 1.370), (19.480, 1.360), (19.500, 1.355), (19.530, 1.350), (19.560, 1.340),
    (19.590, 1.330), (19.620, 1.325), (19.650, 1.320), (19.680, 1.315), (19.700, 1.350), (19.720, 1.320),
    (19.740, 1.330), (19.760, 1.340), (19.780, 1.350), (19.790, 1.440), (19.800, 1.380), (19.810, 1.400),
    (19.820, 1.370), (19.840, 1.340), (19.860, 1.345), (19.880, 1.345), (19.900, 1.335), (19.920, 1.330),
    (19.940, 1.290), (19.960, 1.295), (19.980, 1.310), (20.000, 1.315), (20.020, 1.320), (20.040, 1.320),
    (20.055, 1.365), (20.065, 1.320), (20.080, 1.320), (20.095, 1.345), (20.110, 1.320), (20.130, 1.310),
    (20.150, 1.290), (20.170, 1.280), (20.190, 1.285), (20.210, 1.280), (20.230, 1.275), (20.250, 1.275),
    (20.270, 1.285), (20.290, 1.290), (20.310, 1.300), (20.330, 1.295), (20.350, 1.290), (20.365, 1.300),
    (20.380, 1.345), (20.395, 1.330), (20.410, 1.315), (20.430, 1.290), (20.450, 1.275), (20.470, 1.260),
    (20.490, 1.250), (20.510, 1.255), (20.530, 1.250), (20.550, 1.255), (20.570, 1.255), (20.590, 1.240),
    (20.610, 1.265), (20.625, 1.285), (20.640, 1.330), (20.655, 1.290), (20.670, 1.265), (20.690, 1.250),
    (20.710, 1.235), (20.725, 1.260), (20.740, 1.270), (20.760, 1.275), (20.780, 1.275), (20.800, 1.280),
    (20.820, 1.275), (20.840, 1.275), (20.860, 1.270), (20.880, 1.265), (20.900, 1.265), (20.920, 1.250),
    (20.940, 1.245), (20.960, 1.245), (20.980, 1.255), (21.000, 1.290),
]

# PWV flag windows (hour start, hour end)
pwv_brown_windows = [(18.283, 18.617), (18.700, 18.916), (18.934, 19.383), (19.416, 19.700),
                     (19.750, 19.767), (19.786, 19.883)]
pwv_tan_windows = [(18.916, 18.934), (19.383, 19.400), (19.916, 19.934), (20.917, 20.934)]

# log10 liquid water path, log10(g/m^2); None = no retrieval
lwp_2c = [
    (18.000, 1.525), (18.010, 1.483), (18.017, 1.653), (18.024, 1.639), (18.034, 1.710), (18.043, 2.307),
    (18.052, 2.619), (18.059, 2.562), (18.065, 2.193), (18.072, 2.392), (18.079, 2.165), (18.089, 1.994),
    (18.100, 1.881), (18.110, 1.767), (18.121, 1.852), (18.131, 1.653), (18.141, 1.710), (18.152, 1.597),
    (18.162, 1.455), (18.172, 1.469), (18.181, 1.426), (18.191, 1.483), (18.200, 1.426), (18.210, 1.540),
    (18.220, 1.739), (18.231, 1.710), (18.241, 1.852), (18.253, 2.136), (18.262, 2.278), (18.270, 2.335),
    (18.279, 2.619), (18.288, 2.847), (18.299, 3.045), (18.307, 3.210), (18.314, 3.102), (18.322, 2.989),
    (18.331, 2.946), (18.341, 2.903), (18.351, 2.847), (18.362, 2.847), (18.372, 2.761), (18.384, 2.676),
    (18.394, 2.577), (18.403, 2.477), (18.414, 2.420), (18.424, 2.364), (18.435, 2.335), (18.443, 2.449),
    (18.451, 2.733), (18.458, 2.795), (18.466, 2.776), (18.476, 2.676), (18.485, 2.534), (18.495, 2.392),
    (18.506, 2.335), (18.516, 2.250), (18.528, 2.222), (18.541, 2.165), (18.554, 2.151), (18.567, 2.108),
    (18.580, 2.051), (18.593, 1.994), (18.606, 1.881), (18.620, 1.838), (18.629, 1.838), (18.639, 1.710),
    (18.650, 1.582), (18.659, 1.653), (18.668, 1.767), (18.679, 1.994), (18.689, 2.151), (18.698, 2.364),
    (18.707, 2.563), (18.718, 2.676), (18.728, 2.619), (18.739, 2.506), (18.747, 2.506), (18.755, 2.364),
    (18.764, 2.335), (18.773, 2.449), (18.783, 2.563), (18.794, 2.619), (18.804, 2.719), (18.815, 2.776),
    (18.825, 2.795), (18.836, 2.776), (18.846, 2.719), (18.857, 2.690), (18.868, 2.619), (18.882, 2.577),
    (18.895, 2.506), (18.908, 2.477), (18.921, 2.420), (18.934, 2.364), (18.947, 2.321), (18.967, 2.293),
    (18.986, 2.278), (19.006, 2.264), (19.026, 2.236), (19.045, 2.179), (19.065, 2.165), (19.078, 2.122),
    (19.087, 2.165), (19.095, 2.250), (19.104, 2.506), (19.111, 2.477), (19.117, 2.520), (19.124, 2.449),
    (19.131, 2.335), (19.140, 2.193), (19.150, 2.122), (19.161, 2.065), (19.170, 2.065), (19.183, 1.994),
    (19.203, 1.980), (19.229, 1.966), (19.255, 1.966), (19.281, 1.960), (19.307, 1.938), (19.320, 1.966),
    (19.333, 2.278), (19.344, 2.506), (19.353, 2.534), (19.360, 2.705), (19.369, 2.847), (19.378, 2.946),
    (19.383, 3.031), (19.389, 2.847), (19.396, 2.761), (19.406, 2.648), (19.415, 2.563), (19.425, 2.506),
    (19.436, 2.520), (19.445, 2.392), (19.454, 2.449), (19.462, 2.520), (19.471, 2.420), (19.480, 2.619),
    (19.491, 2.477), (19.501, 2.364), (19.512, 2.278), (19.523, 2.179), (19.533, 2.151), (19.543, 2.023),
    (19.554, 1.881), (19.563, 1.767), (19.572, 1.753), (19.585, 1.767), (19.602, 1.739), (19.622, 1.724),
    (19.642, 1.724), (19.661, 1.668), (19.681, 1.659), (19.694, 1.696), (19.703, 1.639), (19.711, 1.625),
    (19.720, 1.810), (19.727, 1.653), (19.737, 1.881), (19.746, 1.966), (19.755, 2.165), (19.766, 2.278),
    (19.779, 2.449), (19.792, 2.534), (19.805, 2.577), (19.818, 2.619), (19.832, 2.364), (19.841, 2.335),
    (19.850, 2.378), (19.858, 2.364), (19.867, 2.378), (19.880, 2.364), (19.893, 2.335), (19.906, 2.122),
    (19.920, 1.994), (19.933, 1.852), (19.946, 1.597), (19.955, 1.426), (19.963, 1.341), (19.969, 1.426),
    (19.976, 1.341), (19.983, 1.455), (19.990, 1.384), (19.996, 1.355), (20.003, 1.398), (20.011, 1.341),
    (20.018, 1.440), (20.024, 1.426), (20.031, 1.369), (20.038, 1.483), (20.045, 1.710), (20.052, 2.051),
    (20.059, 1.767), (20.066, 1.426), (20.073, 1.369), (20.080, 1.483), (20.086, 1.938), (20.092, 2.108),
    (20.099, 2.222), (20.106, 1.966), (20.112, 1.710), (20.118, 1.455), (20.125, 1.426), (20.134, 1.455),
    (20.141, 1.511), (20.147, 1.540), (20.153, 1.455), (20.160, 1.511), (20.169, 1.483), (20.177, 1.398),
    (20.186, 1.369), (20.195, 1.355), (20.204, 1.455), (20.212, 1.497), (20.221, 1.440), (20.228, 1.369),
    (20.234, 1.199), (20.240, 1.142), (20.247, 1.227), (20.256, 1.256), (20.265, 1.284), (20.274, 1.355),
    (20.282, 1.327), (20.291, 1.369), (20.300, 1.341), (20.309, 1.426), (20.316, 1.653), (20.321, 1.881),
    (20.326, 1.625), (20.333, 1.398), (20.340, 1.327), (20.345, 1.483), (20.352, 1.994), (20.359, 2.335),
    (20.365, 2.506), (20.371, 2.449), (20.377, 2.534), (20.383, 2.449), (20.389, 2.506), (20.396, 2.435),
    (20.403, 2.477), (20.410, 2.420), (20.418, 2.307), (20.427, 2.108), (20.435, 1.881), (20.444, 1.653),
    (20.453, 1.426), (20.462, 1.341), (20.475, 1.335), (20.483, 1.384), (20.490, 1.511), (20.497, 1.852),
    (20.505, 1.994), (20.511, 2.051), (20.518, 1.994), (20.525, 2.023), (20.532, 2.051), (20.540, 1.966),
    (20.549, 1.909), (20.558, 1.852), (20.566, 1.767), (20.575, 1.653), (20.584, 1.455), (20.593, 1.341),
    (20.601, 1.355), (20.610, 1.398), (20.619, 1.540), (20.625, 1.852), (20.632, 2.108), (20.639, 2.051),
    (20.645, 1.938), (20.651, 2.193), (20.658, 1.710), (20.665, 1.341), (20.674, 1.327), (20.684, 1.341),
    (20.693, 1.327), (20.702, 1.327), (20.711, 1.369), (20.718, 1.540), (20.724, 1.824), (20.733, 1.909),
    (20.741, 1.938), (20.750, 1.824), (20.759, 2.051), (20.767, 1.824), (20.776, 1.767), (20.784, 1.838),
    (20.793, 1.824), (20.802, 1.767), (20.811, 2.023), (20.820, 2.108), (20.829, 2.222), (20.837, 2.108),
    (20.846, 1.938), (20.855, 1.767), (20.864, 1.597), (20.872, 1.426), (20.881, 1.540), (20.890, 1.653),
    (20.898, 1.852), (20.907, 1.625), (20.916, 1.369), (20.925, 1.327), (20.931, 1.256), (20.938, 1.341),
    (20.947, 1.341), (20.955, 1.369), (20.964, 1.412), (20.973, 1.312), (20.982, 1.398), (20.990, 1.426),
    (21.000, 1.597),
]

lwp_3c = [
    (18.00, 1.40), (18.01, 1.30), (18.02, 1.45), (18.03, 1.60), (18.04, 2.15), (18.05, 2.55),
    (18.057, 2.30), (18.065, 2.15), (18.072, 2.58), (18.08, 2.15), (18.09, 2.00), (18.10, 1.80),
    (18.11, 1.72), (18.12, 1.82), (18.13, 1.65), (18.14, 1.72), (18.15, 1.55), (18.16, 1.45),
    (18.17, 1.35), (18.18, 1.28), (18.19, 1.25), (18.20, 1.30), (18.21, 1.42), (18.22, 1.62),
    (18.23, 1.50), (18.24, 1.70), (18.25, 2.05), (18.26, 2.25), (18.27, 2.45), (18.28, 2.70),
    (18.29, 2.88), (18.30, 3.00), (18.31, 3.08), (18.32, 2.95), (18.33, 2.85), (18.34, 2.72),
    (18.35, 2.68), (18.36, 2.62), (18.37, 2.55), (18.38, 2.58), (18.39, 2.45), (18.40, 2.30),
    (18.41, 2.15), (18.42, 2.05), (18.43, 2.00), (18.44, 2.20), (18.45, 2.50), (18.46, 2.55),
    (18.47, 2.45), (18.48, 2.25), (18.49, 1.95), (18.50, 1.70), (18.51, 1.48), (18.52, 1.30),
    (18.53, 1.20), (18.54, 1.28), (18.55, 1.40), (18.56, 1.32), (18.57, 1.45), (18.58, 1.50),
    (18.59, 1.38), (18.60, 1.45), (18.61, 1.52), (18.62, 1.55), (18.63, 1.48), (18.64, 1.60),
    (18.65, 1.66), (18.66, 1.80), (18.67, 1.95), (18.68, 2.10), (18.69, 2.30), (18.70, 2.55),
    (18.71, 2.68), (18.72, 2.55), (18.73, 2.60), (18.74, 2.40), (18.75, 2.28), (18.76, 2.35),
    (18.77, 2.45), (18.78, 2.55), (18.79, 2.62), (18.80, 2.68), (18.81, 2.72), (18.82, 2.75),
    (18.83, 2.62), (18.84, 2.35), (18.85, 2.20), (18.86, 2.05), (18.87, 1.85), (18.88, 1.80),
    (18.89, 1.72), (18.90, 1.60), (18.91, 1.45), (18.92, 1.35), (18.93, 1.30), (18.94, 1.33),
    (18.95, 1.30), (18.96, 1.32), (18.97, 1.28), (18.98, 1.33), (18.99, 1.30), (19.00, 1.32),
    (19.01, 1.36), (19.02, 1.30), (19.03, 1.33), (19.04, 1.29), (19.05, 1.32), (19.06, 1.30),
    (19.07, 1.35), (19.08, 1.50), (19.09, 1.90), (19.10, 2.35), (19.11, 2.45), (19.12, 2.40),
    (19.13, 2.10), (19.14, 1.85), (19.15, 1.60), (19.16, 1.40), (19.17, 1.30), (19.18, 1.28),
    (19.19, 1.32), (19.20, 1.30), (19.21, 1.33), (19.22, 1.29), (19.23, 1.32), (19.24, 1.30),
    (19.25, 1.33), (19.26, 1.31), (19.27, 1.33), (19.28, 1.30), (19.29, 1.32), (19.30, 1.35),
    (19.31, 1.50), (19.32, 1.85), (19.33, 2.05), (19.34, 2.25), (19.35, 2.35), (19.36, 2.60),
    (19.37, 2.85), (19.38, 3.05), (19.39, 2.80), (19.40, 2.60), (19.41, 2.45), (19.42, 2.35),
    (19.43, 2.40), (19.44, 2.30), (19.45, 2.45), (19.46, 2.35), (19.47, 2.55), (19.48, 2.60),
    (19.49, 2.45), (19.50, 2.35), (19.51, 2.25), (19.52, 2.10), (19.53, 1.95), (19.54, 1.80),
    (19.55, 1.55), (19.56, 1.35), (19.57, 1.30), (19.58, 1.28), (19.59, 1.30), (19.60, 1.25),
    (19.61, 1.22), (19.62, 1.20), (19.63, 1.25), (19.64, 1.28), (19.65, 1.32), (19.66, 1.40),
    (19.67, 1.30), (19.68, 1.25), (19.69, 1.30), (19.70, 1.40), (19.71, 1.50), (19.72, 1.62),
    (19.73, 1.70), (19.74, 1.85), (19.75, 2.05), (19.76, 2.25), (19.77, 2.45), (19.78, 2.50),
    (19.79, 2.55), (19.80, 2.62), (19.81, 2.55), (19.82, 2.45), (19.83, 2.35), (19.84, 2.33),
    (19.85, 2.40), (19.86, 2.35), (19.87, 2.38), (19.88, 2.35), (19.89, 2.32), (19.90, 2.20),
    (19.91, 2.05), (19.92, 1.90), (19.93, 1.70), (19.94, 1.45), (19.95, 1.25), (19.96, 1.20),
    (19.97, 1.18), (19.98, 1.22), (19.99, 1.20), (20.00, 1.25), (20.01, 1.28), (20.02, 1.30),
    (20.03, 1.33), (20.04, 1.40), (20.05, 2.10), (20.06, 1.60), (20.07, 1.35), (20.08, 1.45),
    (20.09, 2.10), (20.10, 2.30), (20.11, 1.80), (20.12, 1.35), (20.13, 1.40), (20.14, 1.45),
    (20.15, 1.30), (20.16, 1.30), (20.17, 1.35), (20.18, 1.40), (20.19, 1.35), (20.20, 1.40),
    (20.21, 1.45), (20.22, 1.40), (20.23, 1.30), (20.24, 1.15), (20.25, 1.20), (20.26, 1.28),
    (20.27, 1.30), (20.28, 1.35), (20.29, 1.32), (20.30, 1.35), (20.31, 1.40), (20.32, 1.90),
    (20.33, 1.45), (20.34, 1.38), (20.35, 1.80), (20.36, 2.40), (20.37, 2.50), (20.38, 2.60),
    (20.39, 2.55), (20.40, 2.50), (20.41, 2.45), (20.42, 2.30), (20.43, 2.10), (20.44, 1.75),
    (20.45, 1.40), (20.46, 1.28), (20.47, 1.25), (20.48, 1.28), (20.49, 1.45), (20.50, 1.90),
    (20.51, 2.05), (20.52, 1.98), (20.53, 2.05), (20.54, 1.95), (20.55, 1.85), (20.56, 1.80),
    (20.57, 1.70), (20.58, 1.50), (20.59, 1.35), (20.60, 1.30), (20.61, 1.35), (20.62, 1.50),
    (20.63, 2.00), (20.64, 2.20), (20.65, 2.35), (20.66, 1.60), (20.67, 1.35), (20.68, 1.30),
    (20.69, 1.32), (20.70, 1.28), (20.71, 1.30), (20.72, 1.55), (20.73, 1.85), (20.74, 1.95),
    (20.75, 1.80), (20.76, 2.10), (20.77, 1.80), (20.78, 1.75), (20.79, 1.85), (20.80, 1.80),
    (20.81, 2.00), (20.82, 2.10), (20.83, 2.25), (20.84, 2.05), (20.85, 1.80), (20.86, 1.55),
    (20.87, 1.40), (20.88, 1.50), (20.89, 1.70), (20.90, 1.85), (20.91, 1.50), (20.92, 1.32),
    (20.93, 1.25), (20.94, 1.28), (20.95, 1.25), (20.96, 1.28), (20.97, 1.30), (20.98, 1.28),
    (20.99, 1.35), (21.00, 1.60),
]

lwp_phy = [
    (18.000, 0.82), (18.025, 1.22), (18.043, 2.32), (18.059, 2.455), (18.075, 2.40), (18.091, 1.985),
    (18.108, 1.915), (18.124, 1.517), (18.142, 1.79), (18.158, 1.217), (18.176, 0.88), (18.187, -0.2),
    (18.198, -0.2), (18.208, 1.577), (18.225, 1.558), (18.242, 1.673), (18.258, 2.20), (18.274, 2.59),
    (18.291, 2.90), (18.308, 3.09), (18.324, 2.98), (18.341, 2.815), (18.357, 2.73), (18.375, 2.635),
    (18.390, 2.49), (18.407, 2.20), (18.425, 2.08), (18.441, 2.215), (18.457, 2.56), (18.474, 2.49),
    (18.491, 1.985), (18.508, 1.53), (18.525, 1.205), (18.541, 1.12), (18.559, 0.977), (18.575, 1.097),
    (18.591, 1.284), (18.608, 1.06), (18.625, 1.60), (18.642, 1.42), (18.659, 1.60), (18.675, 1.915),
    (18.691, 2.25), (18.708, 2.55), (18.724, 2.645), (18.742, 2.56), (18.758, 2.26), (18.774, 2.38),
    (18.792, 2.515), (18.808, 2.61), (18.823, 2.68), (18.840, 2.395), (18.858, 2.31), (18.875, 2.12),
    (18.891, 1.985), (18.907, 1.92), (18.925, 2.44), (18.941, 1.11), (18.950, None),
    (19.074, 0.88), (19.090, 1.65), (19.107, 2.345), (19.123, 2.30), (19.140, 1.84), (19.157, 1.37),
    (19.174, 1.01), (19.180, None),
    (19.291, 0.676), (19.307, 0.544), (19.323, 1.553), (19.340, 2.178), (19.357, 2.345), (19.373, 2.863),
    (19.391, 2.92), (19.408, 2.67), (19.425, 2.418), (19.443, 2.358), (19.459, 2.293), (19.475, 2.49),
    (19.492, 2.32), (19.509, 2.13), (19.525, 1.90), (19.541, 1.745), (19.559, 1.145), (19.574, 0.593),
    (19.590, 0.255), (19.600, None),
    (19.660, 0.724), (19.677, 0.76), (19.692, 0.832), (19.706, 1.553), (19.723, 1.673), (19.740, 1.89),
    (19.756, 2.13), (19.773, 2.345), (19.789, 2.527), (19.805, 2.587), (19.823, 2.37), (19.840, 2.335),
    (19.857, 2.335), (19.873, 2.32), (19.891, 2.30), (19.907, 2.12), (19.923, 1.89), (19.938, 1.553),
    (19.955, 0.772), (19.973, 0.35), (19.980, None),
    (20.042, 1.65), (20.058, 1.82), (20.075, 0.86), (20.092, 2.05), (20.108, 1.65), (20.125, 0.91),
    (20.142, 1.125), (20.158, 1.227), (20.175, 0.886), (20.192, -0.2), (20.210, 1.114), (20.226, 0.98),
    (20.230, -0.2), (20.240, None),
    (20.275, 0.39), (20.291, 0.76), (20.309, 0.957), (20.324, 1.65), (20.342, 0.574), (20.359, 2.406),
    (20.376, 2.534), (20.392, 2.534), (20.409, 2.477), (20.427, 2.136), (20.442, 1.469), (20.450, None),
    (20.492, 1.54), (20.508, 2.01), (20.525, 1.966), (20.543, 1.923), (20.560, 1.568), (20.578, 1.312),
    (20.582, -0.2), (20.608, -0.2), (20.625, 1.74), (20.641, 2.01), (20.656, 0.63), (20.672, -0.2),
    (20.680, None),
    (20.709, 0.36), (20.726, 1.81), (20.744, 1.895), (20.759, 1.966), (20.776, 1.64), (20.794, 1.71),
    (20.809, 1.724), (20.826, 2.207), (20.842, 1.994), (20.859, 1.341), (20.875, 0.957), (20.892, 1.71),
    (20.907, 1.554), (20.920, None),
    (20.992, 0.446), (21.000, 1.78),
]

lwp_adi = [
    (18.000, 1.35), (18.009, 1.145), (18.025, 1.48), (18.041, 2.76), (18.058, 2.66), (18.075, 2.89),
    (18.091, 2.51), (18.106, 1.94), (18.124, 1.885), (18.142, 1.885), (18.156, 1.625), (18.176, 1.294),
    (18.189, 1.457), (18.208, 1.78), (18.225, 1.98), (18.242, 1.54), (18.258, 2.65), (18.274, 2.94),
    (18.291, 3.01), (18.308, 3.01), (18.324, 2.71), (18.341, 2.41), (18.357, 2.40), (18.375, 2.215),
    (18.390, 2.35), (18.407, 2.38), (18.423, 2.73), (18.441, 2.50), (18.457, 2.49), (18.474, 2.52),
    (18.491, 2.23), (18.508, 1.445), (18.525, 1.224), (18.541, 1.457), (18.559, 1.137), (18.575, 1.133),
    (18.591, 1.205), (18.608, 1.133), (18.625, 1.413), (18.642, 1.305), (18.659, 1.43), (18.675, 1.72),
    (18.691, 2.13), (18.708, 2.935), (18.726, 2.93), (18.742, 2.92), (18.758, 2.37), (18.774, 2.82),
    (18.792, 2.90), (18.808, 2.86), (18.825, 3.13), (18.840, 2.42), (18.858, 2.32), (18.875, 1.895),
    (18.891, 1.94), (18.907, 1.885), (18.925, 1.885), (18.941, 1.645), (18.950, None),
    (19.074, 1.19), (19.091, 2.105), (19.108, 2.53), (19.124, 2.39), (19.140, 2.03), (19.157, 1.745),
    (19.174, 1.38), (19.180, None),
    (19.291, 1.18), (19.307, 2.13), (19.324, 2.71), (19.340, 2.90), (19.357, 2.97), (19.373, 3.025),
    (19.391, 3.11), (19.408, 3.035), (19.425, 2.21), (19.441, 2.23), (19.458, 2.31), (19.475, 2.26),
    (19.491, 2.25), (19.507, 2.035), (19.523, 1.77), (19.541, 1.84), (19.557, 1.88), (19.574, 1.54),
    (19.590, 2.17), (19.600, None),
    (19.657, 1.66), (19.672, 1.133), (19.690, 1.133), (19.706, 1.567), (19.724, 1.325), (19.740, 1.558),
    (19.756, 2.65), (19.773, 2.56), (19.789, 2.59), (19.805, 2.615), (19.823, 2.49), (19.840, 2.345),
    (19.857, 2.465), (19.873, 2.58), (19.891, 2.465), (19.907, 2.225), (19.923, 2.08), (19.941, 1.82),
    (19.956, 1.79), (19.972, 1.765), (19.980, None),
    (20.042, 1.455), (20.058, 2.705), (20.075, 1.34), (20.092, 2.02), (20.108, 2.12), (20.125, 2.29),
    (20.142, 1.88), (20.158, 1.40), (20.175, 1.51), (20.192, 2.76), (20.208, 1.65), (20.226, 1.91),
    (20.243, 2.46), (20.250, None),
    (20.275, 1.14), (20.291, 1.20), (20.309, 1.37), (20.326, 2.66), (20.342, 2.05), (20.359, 2.21),
    (20.376, 2.55), (20.392, 2.41), (20.409, 2.41), (20.427, 2.24), (20.442, 2.33), (20.450, None),
    (20.492, 1.74), (20.508, 1.98), (20.525, 1.78), (20.543, 1.99), (20.560, 1.85), (20.575, 1.75),
    (20.593, 1.33), (20.608, 1.47), (20.626, 2.36), (20.642, 2.45), (20.658, 2.16), (20.676, 1.185),
    (20.690, None),
    (20.709, 1.26), (20.726, 1.88), (20.741, 1.97), (20.759, 2.12), (20.776, 1.81), (20.794, 1.92),
    (20.809, 2.03), (20.826, 1.99), (20.842, 2.05), (20.859, 1.67), (20.877, 1.74), (20.892, 1.60),
    (20.910, 1.57), (20.920, None),
    (20.995, 1.49), (21.000, 1.58),
]

# single isolated retrievals (drawn as x markers)
lwp_iso_hour = [19.024]
lwp_phy_iso = [0.87]
lwp_adi_iso = [1.396]

# LWP uncertainty model: (relative, absolute g/m^2)
lwp_phy_unc = (0.10, 10.0)
lwp_adi_unc = (0.15, 8.0)

# LWP flag windows (hour start, hour end)
lwp_cyan_windows = [(18.267, 18.434), (18.450, 18.550), (18.717, 18.767), (18.800, 18.900),
                    (19.466, 19.565), (19.799, 19.849)]
lwp_yellow_windows = [(18.950, 19.016), (19.032, 19.067), (19.183, 19.284), (19.600, 19.648),
                      (19.982, 20.034), (20.250, 20.267), (20.451, 20.484), (20.684, 20.701),
                      (20.917, 20.983)]
lwp_gray_windows = [(18.000, 18.017), (18.185, 18.200), (18.550, 18.583), (18.600, 18.616),
                    (19.067, 19.082), (19.284, 19.300), (19.666, 19.699), (19.966, 19.982),
                    (20.034, 20.050), (20.184, 20.201), (20.233, 20.250), (20.267, 20.317),
                    (20.600, 20.618), (20.667, 20.684), (20.983, 21.000)]

# Phy-Iter DQ flag: minute index after 18 UTC for every value of the flag
dq_flag0 = [1, 2, 3, 4, 5, 6, 7, 8, 9, 10, 12, 13, 14, 26, 35, 37, 38, 39, 40, 41, 42, 46, 47,
            54, 55, 56, 61, 65, 66, 67, 68, 69, 70, 78, 79, 80, 81, 82, 84, 85, 86, 87, 94, 95,
            99, 102, 103, 104, 105, 106, 107, 111, 112, 113, 114, 115, 116, 117, 123, 124, 125,
            126, 127, 128, 129, 130, 132, 133, 139, 140, 141, 142, 143, 144, 145, 146, 149, 150,
            151, 152, 153, 154, 155, 157, 158, 159, 162, 163, 164, 165, 166, 167, 168, 169, 170,
            171, 172, 173, 174, 180]
dq_flag3 = [11, 33, 118, 131, 134, 156, 179]
dq_flag4 = [0, 34, 36, 64, 77, 100, 101, 122, 136, 137, 138, 160]
dq_flag5 = [57, 58, 59, 60, 62, 63, 71, 72, 73, 74, 75, 76, 96, 97, 98, 119, 120, 121, 135,
            147, 148, 161, 175, 176, 177, 178]
dq_flag6 = [15, 18, 83]
dq_flag9 = [17, 18]
dq_flag10 = [16, 17, 18, 27, 28, 43, 44, 48, 49, 88, 108]
dq_flag11 = [16, 17, 18, 19, 20, 21, 22, 23, 24, 25, 27, 28, 29, 30, 31, 32, 43, 44, 45, 48, 49,
             50, 51, 52, 53, 88, 89, 90, 91, 92, 93, 108, 109, 110]

x_ticks = [18, 18.5, 19, 19.5, 20, 20.5, 21]

# ── Style ─────────────────────────────────────────────────────────────────────
AX_BLUE = "#0072BD"
DARK = "#262626"
TAN = "#D2B48C"
BROWN = "#A52A2A"
C2C, C3C, CPHY, CADI = "blue", "lightblue", "darkorange", "purple"
FS_TICK, FS_LAB, FS_LEG = 9, 11, 9.3


def cols(rows):
    out = list(zip(*rows))
    return [np.array([np.nan if v is None else v for v in c], dtype=float) for c in out]


def lwp_envelope(logv, rel, absu):
    lin = 10.0 ** logv
    s = np.sqrt((rel * lin) ** 2 + absu ** 2)
    lo = np.log10(np.clip(lin - s, 1e-3, None))
    return lo, np.log10(lin + s)


fmt = FuncFormatter(lambda v, _: f"{v:g}")


def style(ax, ylim, yticks, ylabel):
    ax.set_xlim(18, 21)
    ax.set_ylim(*ylim)
    ax.set_xticks(x_ticks)
    ax.set_yticks(yticks)
    ax.xaxis.set_major_formatter(fmt)
    ax.yaxis.set_major_formatter(fmt)
    ax.spines["top"].set_visible(False)
    for s in ("left", "right"):
        ax.spines[s].set_color(AX_BLUE)
        ax.spines[s].set_linewidth(0.7)
    ax.spines["bottom"].set_color(DARK)
    ax.spines["bottom"].set_linewidth(0.7)
    ax.tick_params(axis="x", direction="in", length=6.5, width=0.6, colors=DARK,
                   labelsize=FS_TICK, pad=7.5, top=False)
    ax.tick_params(axis="y", direction="in", length=6.5, width=0.6, colors=AX_BLUE,
                   labelsize=FS_TICK, pad=6, right=False)
    ax.set_xlabel("UTC hours on 20250529", fontsize=FS_LAB, color=DARK, labelpad=8.5)
    ax.set_ylabel(ylabel, fontsize=FS_LAB, color=AX_BLUE)
    ax.yaxis.set_label_coords(-0.041, 0.5)


def legend(ax, handles, labels, x0, y0):
    leg = ax.legend(handles, labels, loc="upper left", bbox_to_anchor=(x0, y0),
                    frameon=False, fontsize=FS_LEG, handlelength=5.9, handletextpad=0.6,
                    labelspacing=0.6, borderpad=0, borderaxespad=0, numpoints=1)
    leg.set_zorder(10)
    return leg


def shade(ax, windows, color, ymin=0.0):
    for a, b in windows:
        ax.axvspan(a, b, ymin=ymin, ymax=1, color=color, alpha=0.5, lw=0,
                   zorder=4, clip_on=False)


# ── Figure ────────────────────────────────────────────────────────────────────
fig = plt.figure(figsize=(12.75, 20), dpi=300)
left, width, height = 0.0979, 0.6871, 0.1512
bottoms = [0.7997, 0.6122, 0.4247, 0.2372, 0.0497]
axes = [fig.add_axes([left, b, width, height]) for b in bottoms]

t_phy, phy23, phy31 = cols(bt_phy)
t_3c, c3_23, c3_31 = cols(bt_3c)
t23, v23 = cols(bt23_2c)
t31, v31 = cols(bt31_2c)

# Panel 1: 23 GHz, whole window tan
ax = axes[0]
ax.plot(t23, v23, color=C2C, lw=1.0)
ax.plot(t_3c, c3_23, color=C3C, lw=1.1)
ax.plot(t_phy, phy23, color=CPHY, lw=2.0)
ax.add_patch(Rectangle((0, -0.008), 1.003, 1.008, transform=ax.transAxes, facecolor=TAN,
                       alpha=0.5, lw=0, zorder=4, clip_on=False))
style(ax, (20.5, 85.85), [30, 40, 50, 60, 70, 80], "Zenith BT 23 GHz, K")
legend(ax, [Line2D([], [], color=C2C, lw=1.0), Line2D([], [], color=C3C, lw=1.1),
            Line2D([], [], color=CPHY, lw=2.0)],
       ["MWR 2C (tan = wet window)", "MWR 3C", "Phy-Iter"], 0.595, 0.910)

# Panel 2: 31 GHz
ax = axes[1]
ax.plot(t31, v31, color=C2C, lw=1.0)
ax.plot(t_3c, c3_31, color=C3C, lw=1.1)
ax.plot(t_phy, phy31, color=CPHY, lw=2.0)
style(ax, (11.72, 97.35), [20, 30, 40, 50, 60, 70, 80, 90], "Zenith BT 31 GHz, K")
legend(ax, [Line2D([], [], color=C2C, lw=1.0), Line2D([], [], color=C3C, lw=1.1),
            Line2D([], [], color=CPHY, lw=2.0)],
       ["MWR2C", "MWR 3C", "Phy-Iter"], 0.794, 0.909)

# Panel 3: PWV
ax = axes[2]
tp, vp = cols(pwv_phy)
t2, v2 = cols(pwv_2c)
t3, v3 = cols(pwv_3c)
ax.plot(t2, v2, color=C2C, lw=1.0)
ax.plot(t3, v3, color=C3C, lw=1.1)
ax.fill_between(tp, vp - pwv_phy_unc, vp + pwv_phy_unc, color=CPHY, alpha=0.2, lw=0)
ax.plot(tp, vp, color=CPHY, lw=2.0)
shade(ax, pwv_brown_windows, BROWN, ymin=-0.008)
shade(ax, pwv_tan_windows, TAN, ymin=-0.008)
style(ax, (1.118, 2.425), [1.2, 1.4, 1.6, 1.8, 2.0, 2.2, 2.4], "Precip. Water Vapor, mm")
leg = legend(ax, [Line2D([], [], color=C2C, lw=1.0), Line2D([], [], color=C3C, lw=1.1),
                  Line2D([], [], color=CPHY, lw=2.0)],
             ["MWR 2C PWV", "MWR 3C PWV",
              "Phy-Iter PWV\n(tan = MWR 2C only)\n(brown = MWR 3C only)"], 0.696, 0.895)
leg.get_texts()[2].set_linespacing(1.6)

# Panel 4: LWP
ax = axes[3]
tl2, vl2 = cols(lwp_2c)
tl3, vl3 = cols(lwp_3c)
tlp, vlp = cols(lwp_phy)
tla, vla = cols(lwp_adi)
ax.plot(tl2, vl2, color=C2C, lw=0.9)
ax.plot(tl3, vl3, color=C3C, lw=1.1)
lo, hi = lwp_envelope(vla, *lwp_adi_unc)
ax.fill_between(tla, lo, hi, color=CADI, alpha=0.18, lw=0)
ax.plot(tla, vla, color=CADI, lw=1.1)
lo, hi = lwp_envelope(vlp, *lwp_phy_unc)
ax.fill_between(tlp, lo, hi, color=CPHY, alpha=0.2, lw=0)
ax.plot(tlp, vlp, color=CPHY, lw=1.9)
for th, pv, av in zip(lwp_iso_hour, lwp_phy_iso, lwp_adi_iso):
    for val, c, unc, a in ((av, CADI, lwp_adi_unc, 0.18), (pv, CPHY, lwp_phy_unc, 0.2)):
        lo, hi = lwp_envelope(np.array([val, val]), *unc)
        ax.fill_between([th - 0.008, th + 0.008], lo, hi, color=c, alpha=a, lw=0)
    ax.plot([th], [av], "x", color=CADI, ms=5, mew=2)
    ax.plot([th], [pv], "x", color=CPHY, ms=5, mew=2)
shade(ax, lwp_cyan_windows, "cyan")
shade(ax, lwp_yellow_windows, "yellow")
shade(ax, lwp_gray_windows, "#CCCCCC")
style(ax, (-0.102, 3.576), [0, 0.5, 1, 1.5, 2, 2.5, 3, 3.5],
      r"log10 Liquid Water Path, log10(g/m$^2$)")
legend(ax, [Line2D([], [], color=C2C, lw=0.9), Line2D([], [], color=C3C, lw=1.1),
            Line2D([], [], color=CPHY, lw=1.9, marker="x", ms=5, mew=2),
            Line2D([], [], color=CADI, lw=1.1, marker="x", ms=5, mew=2)],
       ["MWR 2C LWP", "MWR 3C LWP", "Phy-Iter LWP", "Adiabatic LWP"], 0.3985, 0.283)

# Panel 5: DQ flag
ax = axes[4]
for flag, minutes in ((0, dq_flag0), (3, dq_flag3), (4, dq_flag4), (5, dq_flag5), (6, dq_flag6),
                      (9, dq_flag9), (10, dq_flag10), (11, dq_flag11)):
    hours = 18 + (np.array(minutes) + 0.5) / 60.0
    ax.plot(hours, np.full(len(hours), flag), "o", color=CPHY, ms=2.9, mec="none",
            clip_on=False)
style(ax, (-0.515, 11.52), [0, 2, 4, 6, 8, 10], "MWR Phy Iter DQ Flag")

fig.savefig("out.png", dpi=300, facecolor="white")
